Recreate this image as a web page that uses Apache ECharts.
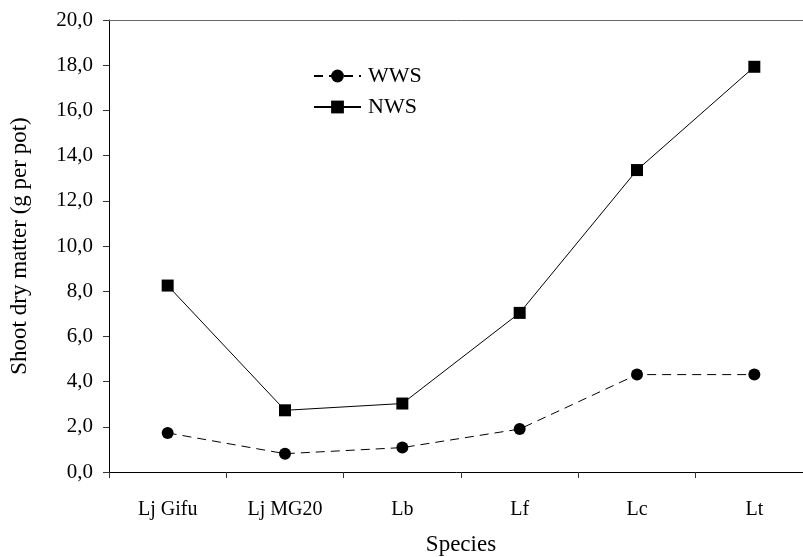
<!DOCTYPE html>
<html>
<head>
<meta charset="utf-8">
<script src="https://cdn.jsdelivr.net/npm/echarts@6/dist/echarts.min.js"></script>
<style>html,body{margin:0;padding:0;background:#fff;}#c{width:803px;height:557px;}</style>
</head>
<body>
<div id="c"></div>
<script>
const categories = ['Lj Gifu', 'Lj MG20', 'Lb', 'Lf', 'Lc', 'Lt'];
const wwsValues = [1.73, 0.81, 1.08, 1.90, 4.31, 4.31];
const nwsValues = [8.25, 2.73, 3.03, 7.04, 13.36, 17.93];
const yTickLabels = ['0,0','2,0','4,0','6,0','8,0','10,0','12,0','14,0','16,0','18,0','20,0'];

const font = '"Liberation Serif", "Times New Roman", serif';
const chart = echarts.init(document.getElementById('c'), null, {renderer: 'canvas'});
chart.setOption({
  animation: false,
  backgroundColor: '#fff',
  grid: {left: 109, right: -10, top: 20, bottom: 85, containLabel: false, outerBoundsMode: 'none'},
  legend: {
    orient: 'vertical', left: 308, top: 60, itemWidth: 47, itemHeight: 16, itemGap: 9,
    textStyle: {fontFamily: font, fontSize: 22, color: '#000', padding: [0, 0, 0, 2]},
    data: ['WWS', 'NWS']
  },
  xAxis: [{
    type: 'category', data: categories, boundaryGap: true,
    name: 'Species', nameLocation: 'middle', nameGap: 61,
    nameTextStyle: {fontFamily: font, fontSize: 23, color: '#000'},
    axisLine: {lineStyle: {color: '#000', width: 1}},
    axisTick: {show: true, length: 6, inside: false, lineStyle: {color: '#333'}},
    axisLabel: {fontFamily: font, fontSize: 20, color: '#000', margin: 28},
    splitLine: {show: false}
  }, {
    type: 'category', data: categories, position: 'top',
    axisLine: {show: true, lineStyle: {color: '#666', width: 1}},
    axisTick: {show: false}, axisLabel: {show: false}, splitLine: {show: false}
  }],
  yAxis: {
    type: 'value', min: 0, max: 20, interval: 2,
    name: 'Shoot dry matter (g per pot)', nameLocation: 'middle', nameGap: 78,
    nameTextStyle: {fontFamily: font, fontSize: 23, color: '#000'},
    axisLine: {show: true, lineStyle: {color: '#000', width: 1}},
    axisTick: {show: true, length: 6, lineStyle: {color: '#333'}},
    axisLabel: {fontFamily: font, fontSize: 21, color: '#000', margin: 16,
      formatter: function (v) { return yTickLabels[Math.round(v / 2)]; }},
    splitLine: {show: false}
  },
  series: [{
    name: 'WWS', type: 'line', data: wwsValues,
    symbol: 'circle', symbolSize: 12,
    itemStyle: {color: '#000'},
    lineStyle: {color: '#000', width: 1, type: [9, 6]}
  }, {
    name: 'NWS', type: 'line', data: nwsValues,
    symbol: 'rect', symbolSize: 12,
    itemStyle: {color: '#000'},
    lineStyle: {color: '#000', width: 1, type: 'solid'}
  }]
});
</script>
</body>
</html>
